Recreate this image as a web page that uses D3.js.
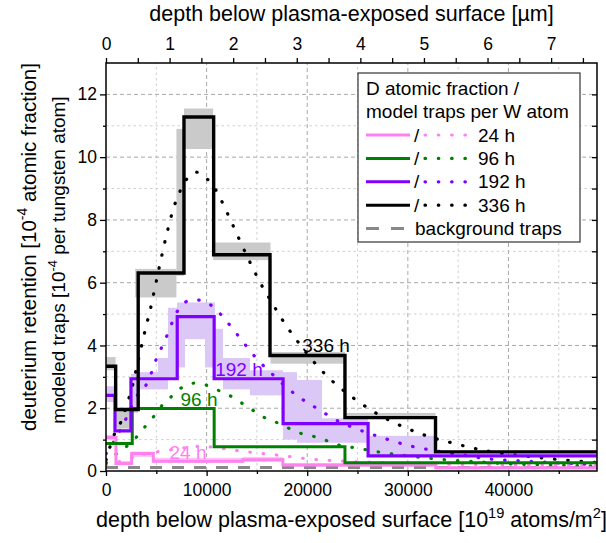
<!DOCTYPE html>
<html lang="en">
<head>
<meta charset="UTF-8">
<title>Deuterium depth profiles</title>
<script src="https://d3js.org/d3.v7.min.js"></script>
<style>
  body { margin: 0; background: #fff; }
  text { font-family: "Liberation Sans", Arial, sans-serif; }
</style>
</head>
<body>
<div id="chart"></div>
<script>
// measured profiles: layer edges [1e19 atoms/m2] and D fraction [1e-4] in each layer
const edges336 = [0, 960, 3200, 7750, 10700, 16300, 23750, 32750, 48800];
const vals336  = [3.34, 1.96, 6.31, 11.28, 6.89, 3.68, 1.70, 0.61];
const edges192 = [0, 890, 2480, 7080, 10750, 17600, 26050, 48800];
const vals192  = [2.41, 1.28, 2.94, 4.92, 2.94, 1.51, 0.48];
const edges96  = [0, 2610, 10750, 23750, 48800];
const vals96   = [0.88, 1.99, 0.77, 0.26];
const edges24  = [0, 990, 2550, 4700, 13600, 17580, 32770, 48800];
const vals24   = [1.07, 0.24, 0.56, 0.31, 0.36, 0.19, 0.10];

// uncertainty bands [x0, x1, low, high]
const band336 = [
  [0, 950, 3.21, 3.63], [950, 2500, 1.35, 1.95], [2900, 7000, 5.53, 6.44],
  [7000, 7750, 6.22, 10.9], [7750, 10650, 10.26, 11.55], [10650, 16350, 6.72, 7.28],
  [16350, 23750, 3.42, 3.79], [23750, 32750, 1.66, 1.85], [32750, 48800, 0.57, 0.66]
];
const band192 = [
  [0, 890, 2.2, 2.7], [2480, 3180, 1.85, 3.1], [3180, 5170, 2.6, 3.15],
  [5170, 6160, 2.6, 3.6], [6160, 7060, 2.9, 5.2], [7060, 7850, 3.3, 5.37],
  [7850, 9840, 4.2, 5.37], [9840, 10830, 3.3, 5.37], [10830, 11630, 2.95, 4.53],
  [11630, 14310, 2.6, 3.6], [14310, 17590, 2.41, 3.21], [17590, 18980, 1.0, 3.15],
  [18980, 21470, 0.9, 2.9], [21470, 26040, 0.9, 1.68], [26040, 32700, 0.5, 1.12]
];
const band24 = [
  [0, 990, 0.98, 1.15], [990, 2550, 0.18, 0.32], [2550, 4700, 0.45, 0.62],
  [4700, 13600, 0.26, 0.42], [13600, 17580, 0.29, 0.45], [17580, 32770, 0.13, 0.25],
  [32770, 48800, 0.05, 0.14]
];

// model traps per W atom [1e-4]
const model336 = [[0,0.35],[398,0.77],[726,1.09],[1461,1.55],[2057,2.1],[2654,2.75],[3051,3.3],
  [3608,4.1],[3976,4.6],[4373,5.1],[4771,5.7],[5367,6.6],[6033,7.55],[6759,8.42],[7255,8.84],
  [7851,9.22],[9015,9.52],[10008,9.32],[10903,8.96],[12026,8.24],[13149,7.45],[14342,6.63],
  [15604,5.84],[16300,5.47],[17622,4.77],[19182,4.07],[20942,3.37],[22860,2.76],[24917,2.25],
  [26905,1.83],[29320,1.44],[31874,1.12],[34588,0.88],[37341,0.67],[40084,0.53],[42668,0.44],
  [45451,0.35],[48800,0.27]];
const model192 = [[0,0.55],[894,1.0],[1888,1.6],[2882,2.3],[4045,2.78],[4542,3.15],[5039,3.6],
  [5695,4.05],[6192,4.42],[6689,4.82],[7355,5.22],[8518,5.45],[9671,5.43],[10664,5.22],
  [11658,4.9],[12593,4.53],[13388,4.21],[14242,3.86],[15137,3.52],[16131,3.21],[17960,2.66],
  [18953,2.41],[20047,2.17],[21170,1.96],[22432,1.7],[25016,1.33],[27660,1.04],[30215,0.80],
  [32868,0.64],[35452,0.51],[38166,0.38],[40819,0.33],[43631,0.28],[46285,0.24],[48800,0.2]];
const model96 = [[0,0.25],[894,0.51],[2216,0.83],[3051,1.09],[3876,1.41],[4701,1.72],[5596,2.1],
  [6460,2.36],[7355,2.62],[8846,2.8],[10008,2.73],[11161,2.57],[12255,2.41],[13318,2.2],
  [14481,1.96],[15634,1.72],[16797,1.57],[18118,1.37],[19450,1.19],[20772,1.09],[22094,0.95],
  [23426,0.80],[24748,0.74],[27401,0.59],[30045,0.48],[34021,0.35],[36674,0.30],[39328,0.24],
  [41972,0.21],[44953,0.19],[48800,0.16]];
const model24 = [[0,0.2],[1391,0.3],[2882,0.45],[4373,0.58],[5536,0.63],[7851,0.74],[9343,0.79],
  [10833,0.75],[12155,0.69],[13487,0.63],[14809,0.58],[16131,0.54],[17463,0.49],[18953,0.43],
  [20275,0.38],[21597,0.35],[23088,0.32],[27232,0.27],[32202,0.23],[39159,0.2],[48800,0.17]];

const backgroundTraps = 0.11;

// direct labels next to the curves
const curveLabels = [
  {text: "336 h", x: 21870, y: 3.79, key: "336"},
  {text: "192 h", x: 13220, y: 3.03, key: "192"},
  {text: "96 h",  x: 9240,  y: 2.07, key: "96"},
  {text: "24 h",  x: 8150,  y: 0.38, key: "24"}
];

const xTicks = [0, 10000, 20000, 30000, 40000];
const yTicks = [0, 2, 4, 6, 8, 10, 12];
const umTicks = [0, 1, 2, 3, 4, 5, 6, 7];
const atomsPerMicron = 6320;

const colors = {"24": "#ff80f0", "96": "#008000", "192": "#8000ff", "336": "#000000"};

const W = 606, H = 543;
const m = {left: 106, right: 9, top: 63, bottom: 72};

const svg = d3.select("#chart").append("svg")
  .attr("width", W).attr("height", H);

const x = d3.scaleLinear().domain([0, 48800]).range([m.left, W - m.right]);
const y = d3.scaleLinear().domain([0, 13]).range([H - m.bottom, m.top]);
const xUm = d3.scaleLinear().domain([0, 48800 / atomsPerMicron]).range([m.left, W - m.right]);

svg.append("clipPath").attr("id", "plot").append("rect")
  .attr("x", m.left).attr("y", m.top)
  .attr("width", W - m.left - m.right).attr("height", H - m.top - m.bottom);

const plot = svg.append("g").attr("clip-path", "url(#plot)");

// grid
d3.range(5000, 48800, 5000).forEach(function (v) {
  let major = v % 10000 === 0;
  plot.append("line")
    .attr("x1", x(v)).attr("x2", x(v)).attr("y1", y(0)).attr("y2", y(13))
    .attr("stroke", major ? "#a8a8a8" : "#cfcfcf")
    .attr("stroke-dasharray", major ? "4,3" : "2.5,3");
});
d3.range(1, 13).forEach(function (v) {
  let major = v % 2 === 0;
  plot.append("line")
    .attr("x1", x(0)).attr("x2", x(48800)).attr("y1", y(v)).attr("y2", y(v))
    .attr("stroke", major ? "#a8a8a8" : "#cfcfcf")
    .attr("stroke-dasharray", major ? "4,3" : "2.5,3");
});

// bands
function drawBand(data, fill) {
  plot.append("g").selectAll("rect").data(data).enter().append("rect")
    .attr("x", d => x(d[0]))
    .attr("width", d => x(d[1]) - x(d[0]))
    .attr("y", d => y(d[3]))
    .attr("height", d => y(d[2]) - y(d[3]))
    .attr("fill", fill);
}
drawBand(band336, "#cacaca");
drawBand(band192, "#dcc8f7");
drawBand(band24, "#ffc4f5");

// background traps
plot.append("line")
  .attr("x1", x(0)).attr("x2", x(48800))
  .attr("y1", y(backgroundTraps)).attr("y2", y(backgroundTraps))
  .attr("stroke", "#888").attr("stroke-width", 3)
  .attr("stroke-dasharray", "12,10");

// model curves
const modelLine = d3.line().x(d => x(d[0])).y(d => y(d[1])).curve(d3.curveMonotoneX);
[["24", model24], ["96", model96], ["192", model192], ["336", model336]].forEach(function (s) {
  plot.append("path")
    .attr("d", modelLine(s[1]))
    .attr("fill", "none")
    .attr("stroke", colors[s[0]])
    .attr("stroke-width", 3.2)
    .attr("stroke-linecap", "round")
    .attr("stroke-dasharray", "0.5,12.8");
});

// measured step profiles
const stepLine = d3.line().x(d => x(d[0])).y(d => y(d[1])).curve(d3.curveStepAfter);
function stepPoints(edges, vals) {
  let pts = vals.map((v, i) => [edges[i], v]);
  pts.push([edges[edges.length - 1], vals[vals.length - 1]]);
  return pts;
}
[["24", edges24, vals24, 3], ["96", edges96, vals96, 3], ["192", edges192, vals192, 3.2],
 ["336", edges336, vals336, 3.4]].forEach(function (s) {
  plot.append("path")
    .attr("d", stepLine(stepPoints(s[1], s[2])))
    .attr("fill", "none")
    .attr("stroke", colors[s[0]])
    .attr("stroke-width", s[3]);
});

// curve labels
svg.selectAll(".clabel").data(curveLabels).enter().append("text")
  .attr("class", "clabel")
  .attr("x", d => x(d.x)).attr("y", d => y(d.y))
  .attr("text-anchor", "middle")
  .attr("font-size", "19px")
  .attr("fill", d => colors[d.key])
  .text(d => d.text);

// axes
const tickFont = "17.5px";
svg.append("g").attr("transform", "translate(0," + y(0) + ")")
  .call(d3.axisBottom(x).tickValues(xTicks).tickFormat(d3.format("d")).tickSize(5).tickPadding(8));
svg.append("g").attr("transform", "translate(0," + y(0) + ")")
  .call(d3.axisBottom(x).tickValues(d3.range(5000, 48800, 10000)).tickFormat("").tickSize(3));
svg.append("g").attr("transform", "translate(" + x(0) + ",0)")
  .call(d3.axisLeft(y).tickValues(yTicks).tickSize(6).tickPadding(3));
svg.append("g").attr("transform", "translate(" + x(0) + ",0)")
  .call(d3.axisLeft(y).tickValues(d3.range(1, 13, 2)).tickFormat("").tickSize(3));
svg.append("g").attr("transform", "translate(0," + m.top + ")")
  .call(d3.axisTop(xUm).tickValues(umTicks).tickSize(5).tickPadding(8));
svg.append("g").attr("transform", "translate(0," + m.top + ")")
  .call(d3.axisTop(xUm).tickValues(d3.range(0.5, 7.7, 1)).tickFormat("").tickSize(5));
svg.append("g").attr("transform", "translate(" + x(48800) + ",0)")
  .call(d3.axisRight(y).tickValues(d3.range(1, 13)).tickFormat("").tickSize(-5));

svg.selectAll(".domain").remove();
svg.selectAll(".tick line").attr("stroke", "#000").attr("stroke-width", 1.3);
svg.selectAll(".tick text").attr("font-size", tickFont).attr("font-family", null).attr("fill", "#000");

// frame
svg.append("rect")
  .attr("x", x(0)).attr("y", y(13))
  .attr("width", x(48800) - x(0)).attr("height", y(0) - y(13))
  .attr("fill", "none").attr("stroke", "#000").attr("stroke-width", 1.5);

// axis titles
function richText(sel, parts, size) {
  parts.forEach(function (p) {
    let t = sel.append("tspan").text(p.t);
    if (p.sup) t.attr("font-size", (size * 0.68) + "px").attr("dy", -size * 0.42);
    else if (p.after) t.attr("dy", size * 0.42);
  });
}
svg.append("text")
  .attr("x", (x(0) + x(48800)) / 2).attr("y", 21)
  .attr("text-anchor", "middle").attr("font-size", "21.5px")
  .text("depth below plasma-exposed surface [µm]");

const bt = svg.append("text")
  .attr("x", (x(0) + x(48800)) / 2).attr("y", 527)
  .attr("text-anchor", "middle").attr("font-size", "21.5px");
richText(bt, [{t: "depth below plasma-exposed surface [10"}, {t: "19", sup: true},
  {t: " atoms/m", after: true}, {t: "2", sup: true}, {t: "]", after: true}], 21.5);

const yt1 = svg.append("text")
  .attr("transform", "translate(36,247) rotate(-90)")
  .attr("text-anchor", "middle").attr("font-size", "20.5px");
richText(yt1, [{t: "deuterium retention [10"}, {t: "-4", sup: true},
  {t: " atomic fraction]", after: true}], 20.5);
const yt2 = svg.append("text")
  .attr("transform", "translate(65,260) rotate(-90)")
  .attr("text-anchor", "middle").attr("font-size", "19px");
richText(yt2, [{t: "modeled traps [10"}, {t: "-4", sup: true},
  {t: " per tungsten atom]", after: true}], 19);

// legend
const lg = svg.append("g");
const lgFont = "19px";
lg.append("rect").attr("x", 358).attr("y", 73).attr("width", 222).attr("height", 169)
  .attr("fill", "#fff").attr("stroke", "#333").attr("stroke-width", 1.2);
lg.append("text").attr("x", 366).attr("y", 95).attr("font-size", lgFont).text("D atomic fraction /");
lg.append("text").attr("x", 366).attr("y", 118).attr("font-size", lgFont).text("model traps per W atom");
const legendRows = ["24", "96", "192", "336"];
legendRows.forEach(function (k, i) {
  let cy = 135 + i * 23.4;
  lg.append("line").attr("x1", 366).attr("x2", 410).attr("y1", cy).attr("y2", cy)
    .attr("stroke", colors[k]).attr("stroke-width", 3);
  lg.append("text").attr("x", 414).attr("y", cy + 6.5).attr("font-size", lgFont).text("/");
  lg.append("line").attr("x1", 425).attr("x2", 467).attr("y1", cy).attr("y2", cy)
    .attr("stroke", colors[k]).attr("stroke-width", 3.2)
    .attr("stroke-linecap", "round").attr("stroke-dasharray", "0.5,12.8");
  lg.append("text").attr("x", 478).attr("y", cy + 6.5).attr("font-size", lgFont).text(k + " h");
});
lg.append("line").attr("x1", 366).attr("x2", 406).attr("y1", 228.6).attr("y2", 228.6)
  .attr("stroke", "#888").attr("stroke-width", 3).attr("stroke-dasharray", "13,12");
lg.append("text").attr("x", 415).attr("y", 235).attr("font-size", lgFont).text("background traps");
</script>
</body>
</html>
